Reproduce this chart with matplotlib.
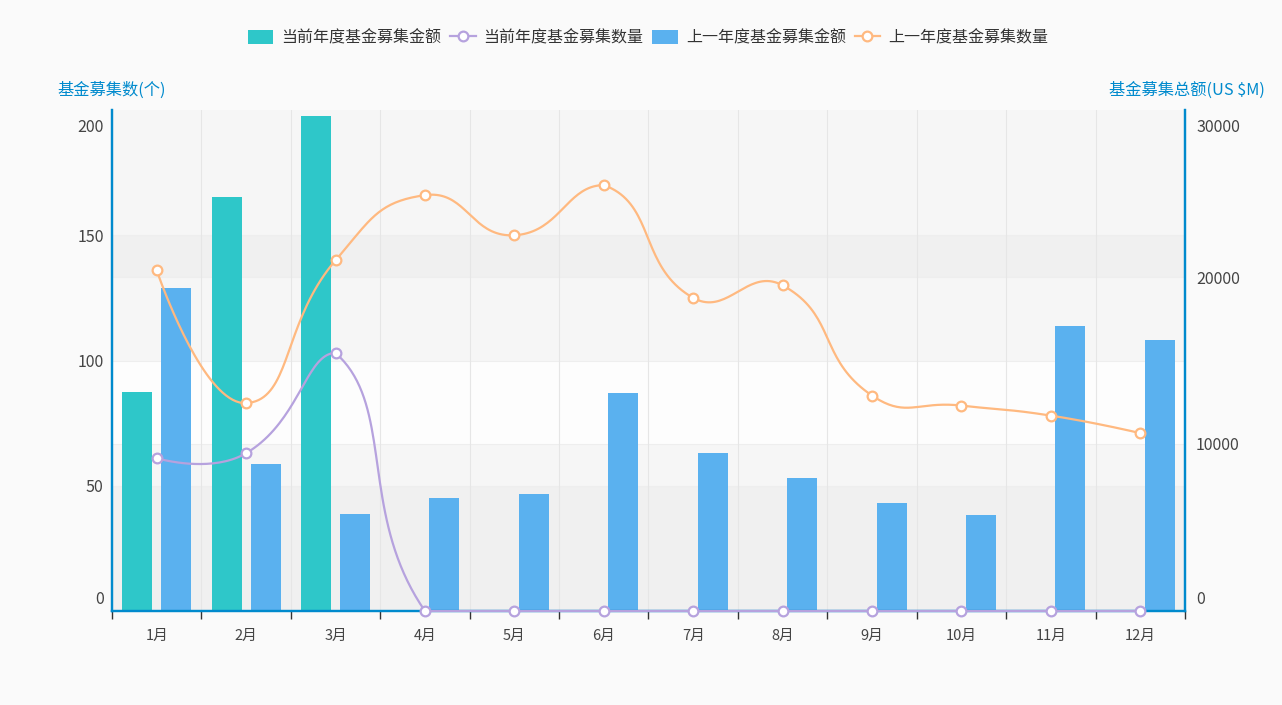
import matplotlib
matplotlib.use("Agg")
import matplotlib.pyplot as plt
import numpy as np
from matplotlib.lines import Line2D
from matplotlib.patches import Patch
from matplotlib.transforms import ScaledTranslation

plt.rcParams["font.family"] = ["Noto Sans CJK SC", "DejaVu Sans"]

months = ["1月", "2月", "3月", "4月", "5月", "6月", "7月", "8月", "9月", "10月", "11月", "12月"]
amount_cur = [13110, 24790, 29640, 0, 0, 0, 0, 0, 0, 0, 0, 0]
amount_prev = [19340, 8800, 5810, 6750, 7000, 13070, 9480, 7950, 6450, 5750, 17080, 16230]
count_cur = [61, 63, 103, 0, 0, 0, 0, 0, 0, 0, 0, 0]
count_prev = [136, 83, 140, 166, 150, 170, 125, 130, 86, 82, 78, 71]

left_ticks = [0, 50, 100, 150, 200]
right_ticks = [0, 10000, 20000, 30000]

TEAL = "#2ec7c9"
PURPLE = "#b6a2de"
BLUE = "#5ab1ef"
ORANGE = "#ffb980"
AXIS = "#008acd"
TXT = "#444444"


def smooth_line(ys, sx, sy, smooth=0.5, n=40):
    # bezier smoothing like echarts 4: tangent from neighbours, control points kept in the data box
    pts = np.array([[i * sx, v * sy] for i, v in enumerate(ys)], dtype=float)
    lo, hi = pts.min(axis=0), pts.max(axis=0)
    m = len(pts)
    pc = pts.copy()
    nc = pts.copy()
    for i in range(1, m - 1):
        p, prev, nxt = pts[i], pts[i - 1], pts[i + 1]
        v = (nxt - prev) * smooth
        d0 = np.hypot(*(p - prev))
        d1 = np.hypot(*(nxt - p))
        s = d0 + d1
        if s:
            d0, d1 = d0 / s, d1 / s
        pc[i] = np.clip(p - v * d0, lo, hi)
        nc[i] = np.clip(p + v * d1, lo, hi)
    t = np.linspace(0, 1, n)[:, None]
    out = [pts[:1]]
    for i in range(m - 1):
        p0, p1, p2, p3 = pts[i], nc[i], pc[i + 1], pts[i + 1]
        seg = ((1 - t) ** 3) * p0 + 3 * ((1 - t) ** 2) * t * p1 + 3 * (1 - t) * t ** 2 * p2 + t ** 3 * p3
        out.append(seg[1:])
    out = np.vstack(out)
    return out[:, 0] / sx, out[:, 1] / sy


fig = plt.figure(figsize=(12.82, 7.05), dpi=100)
fig.patch.set_facecolor("#fafafa")
ax = fig.add_axes([112 / 1282, 94 / 705, 1073 / 1282, 501 / 705])
ax.set_facecolor("#fdfdfd")
axl = ax.twinx()

x = np.arange(len(months))
rmax, lmax = right_ticks[-1], left_ticks[-1]
ax.set_xlim(-0.5, len(months) - 0.5)
ax.set_ylim(0, rmax)
axl.set_ylim(0, lmax)

# split areas of both axes (where they overlap the stripe gets darker)
band = (0.78, 0.78, 0.78, 0.12)
for lo, hi in zip(left_ticks[:-1:2], left_ticks[1::2]):
    ax.axhspan(lo * rmax / lmax, hi * rmax / lmax, color=band, lw=0, zorder=0)
for lo, hi in zip(right_ticks[::2], right_ticks[1::2] + [None]):
    if hi is None:
        hi = rmax
    if lo < rmax:
        ax.axhspan(lo, hi, color=band, lw=0, zorder=0)
for v in left_ticks[1:-1]:
    ax.axhline(v * rmax / lmax, color="#eeeeee", lw=0.8, zorder=0.5)
for v in right_ticks[1:-1]:
    ax.axhline(v, color="#eeeeee", lw=0.8, zorder=0.5)
for b in np.arange(0.5, len(months) - 0.5, 1):
    ax.axvline(b, color="#e6e6e6", lw=0.8, zorder=0.5)

bw = 0.336
off = 0.218
ax.bar(x - off, amount_cur, bw, color=TEAL, zorder=2)
ax.bar(x + off, amount_prev, bw, color=BLUE, zorder=2)

sx, sy = 1073 / 12, 501 / lmax
for vals, col in [(count_cur, PURPLE), (count_prev, ORANGE)]:
    cx, cy = smooth_line(vals, sx, sy)
    axl.plot(cx, cy, color=col, lw=1.6, zorder=3, clip_on=False, solid_capstyle="round")
    axl.plot(x, vals, ls="none", marker="o", ms=7, mfc="white", mec=col, mew=1.6,
             zorder=4, clip_on=False)

# axes styling
for a in (ax, axl):
    a.spines["top"].set_visible(False)
    for s in ("left", "right", "bottom"):
        a.spines[s].set_color(AXIS)
        a.spines[s].set_linewidth(1.6)

ax.set_xticks(x)
ax.set_xticklabels(months)
ax.set_xticks(np.arange(-0.5, len(months), 1), minor=True)
ax.tick_params(axis="x", which="major", length=0, pad=13, labelsize=10.5, labelcolor=TXT)
ax.tick_params(axis="x", which="minor", length=6, width=1, color="#333333", direction="out")

ax.set_yticks(right_ticks)
ax.set_yticklabels([str(v) for v in right_ticks])
ax.tick_params(axis="y", length=0, pad=8, labelsize=11.5, labelcolor=TXT)
axl.yaxis.tick_left()
axl.set_yticks(left_ticks)
axl.set_yticklabels([str(v) for v in left_ticks])
axl.tick_params(axis="y", length=0, pad=6, labelsize=11.5, labelcolor=TXT)
ax.yaxis.tick_right()

# edge labels sit inside the axis range
for a in (ax, axl):
    labs = a.get_yticklabels()
    labs[0].set_transform(labs[0].get_transform() + ScaledTranslation(0, 14 / 100, fig.dpi_scale_trans))
    labs[-1].set_transform(labs[-1].get_transform() + ScaledTranslation(0, -15 / 100, fig.dpi_scale_trans))

fig.text(112 / 1282, 1 - 90 / 705, "基金募集数(个)", color=AXIS, fontsize=11.7, ha="center", va="center")
fig.text(1187 / 1282, 1 - 90 / 705, "基金募集总额(US $M)", color=AXIS, fontsize=11.7, ha="center", va="center")

handles = [
    Patch(facecolor=TEAL, edgecolor="none"),
    Line2D([], [], color=PURPLE, lw=1.6, marker="o", ms=7, mfc="white", mec=PURPLE, mew=1.6),
    Patch(facecolor=BLUE, edgecolor="none"),
    Line2D([], [], color=ORANGE, lw=1.6, marker="o", ms=7, mfc="white", mec=ORANGE, mew=1.6),
]
labels = ["当前年度基金募集金额", "当前年度基金募集数量", "上一年度基金募集金额", "上一年度基金募集数量"]
fig.legend(handles, labels, loc="center", bbox_to_anchor=(648 / 1282, 1 - 38 / 705), ncol=4,
           frameon=False, fontsize=11.5, handlelength=1.6, handleheight=0.9, handletextpad=0.5,
           columnspacing=0.55, labelcolor="#333333")

fig.savefig("out.png", dpi=100, facecolor=fig.get_facecolor())
